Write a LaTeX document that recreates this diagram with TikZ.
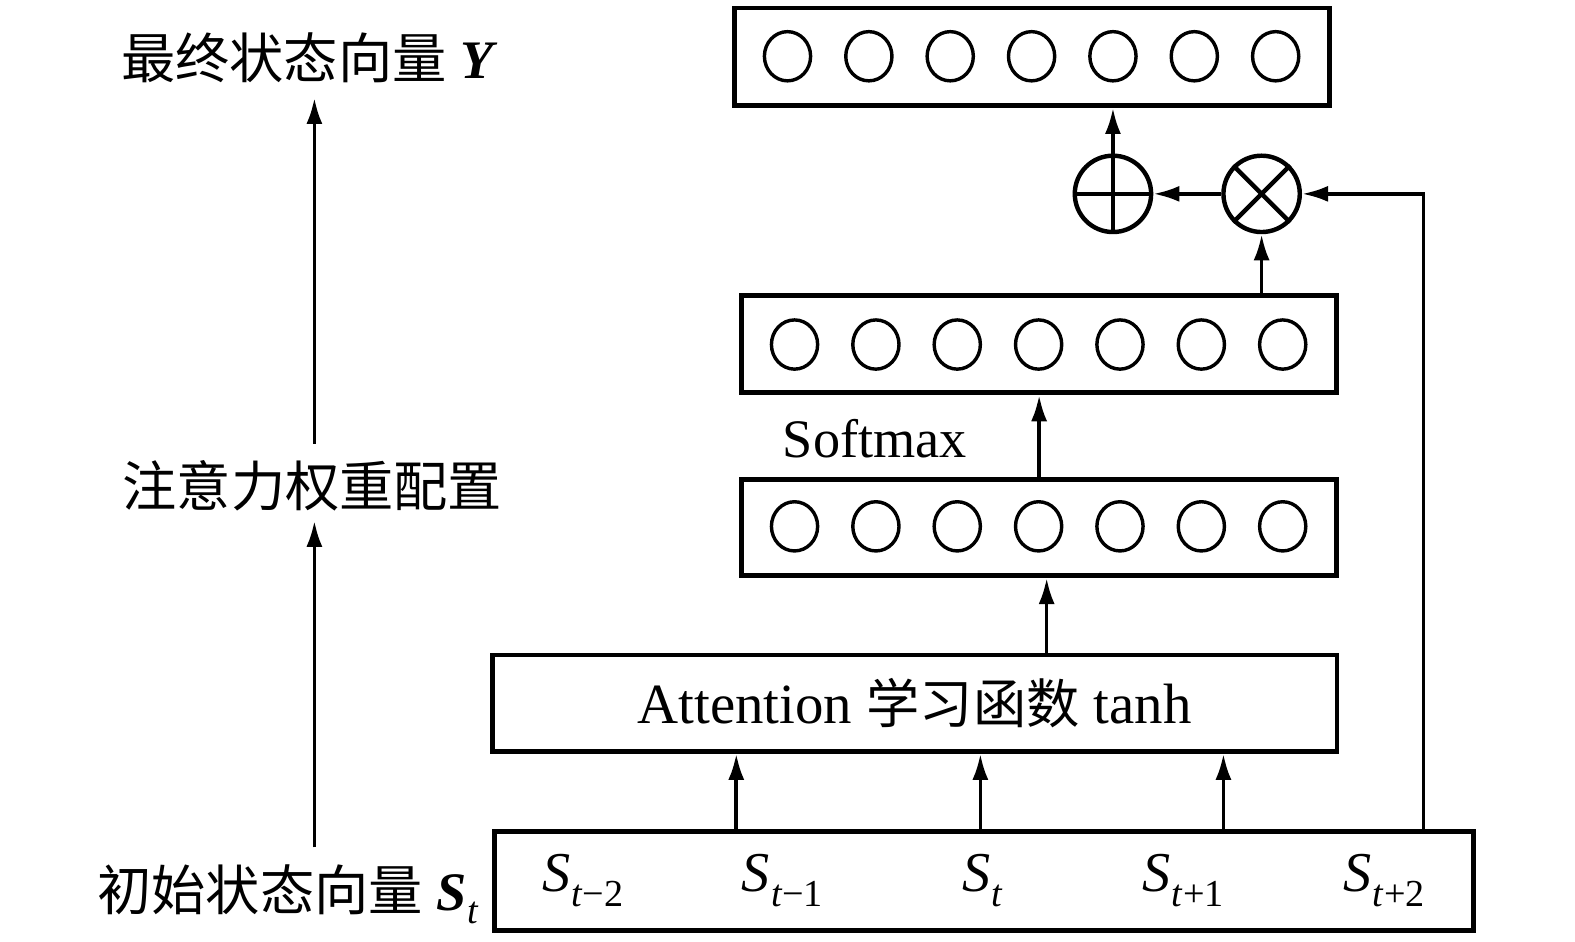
\documentclass[tikz,border=0pt]{standalone}
\usepackage{fontspec}
\setmainfont{Liberation Serif}
\newfontfamily\cjk{Noto Sans CJK SC}
\usetikzlibrary{arrows.meta,shapes.geometric}
\newcommand\Sv[2]{\textit{S}\kern0.5pt\raisebox{-0.55ex}{\fontsize{19}{19}\selectfont\textit{#1}#2}}
\begin{document}
\begin{tikzpicture}[x=0.5pt,y=-0.5pt,
  box/.style={draw,line width=2.4pt,inner sep=0pt},
  unit/.style={draw,ellipse,line width=1.7pt,minimum width=23pt,minimum height=24.5pt,inner sep=0pt},
  op/.style={draw,circle,line width=2.2pt,minimum size=38pt,inner sep=0pt},
  arr/.style={line width=1.8pt,-{Latex[length=13pt,width=8pt]}},
  lbl/.style={inner sep=0pt,font=\fontsize{27}{27}\selectfont},
  slbl/.style={inner sep=0pt,font=\fontsize{28}{28}\selectfont}
]
\useasboundingbox (0,0) rectangle (1568,937);

% vector boxes
\node[box,minimum width=296pt,minimum height=48.5pt] (top) at (1027.5,56.5) {};
\foreach \i in {0,...,6} \node[unit] (ta\i) at ({784+81*\i},56) {};
\node[box,minimum width=296pt,minimum height=48.5pt] (box2) at (1034.5,342.5) {};
\foreach \i in {0,...,6} \node[unit] (tb\i) at ({791+81*\i},343) {};
\node[box,minimum width=296pt,minimum height=48pt] (box3) at (1034.5,525) {};
\foreach \i in {0,...,6} \node[unit] (tc\i) at ({791+81*\i},524) {};

\node[lbl,anchor=base] (sm) at (871,455) {Softmax};

\node[box,minimum width=420.5pt,minimum height=48pt,font=\fontsize{28.3}{28.3}\selectfont] (att) at (910.5,700)
  {Attention {\cjk\fontsize{26.5}{26.5}\selectfont 学习函数} tanh};

\node[box,minimum width=487.5pt,minimum height=49pt] (inp) at (979.5,877) {};
\node[slbl,anchor=base] (s1) at (580,888) {\Sv{t}{−2}};
\node[slbl,anchor=base] (s2) at (779,888) {\Sv{t}{−1}};
\node[slbl,anchor=base] (s3) at (978,888) {\Sv{t}{}};
\node[slbl,anchor=base] (s4) at (1178,888) {\Sv{t}{+1}};
\node[slbl,anchor=base] (s5) at (1378,888) {\Sv{t}{+2}};

% operators
\node[op] (plus) at (1108,193) {};
\draw[line width=2.2pt] (plus.north) -- (plus.south) (plus.west) -- (plus.east);
\node[op] (times) at (1256,193) {};
\draw[line width=2.2pt] (times.north west) -- (times.south east) (times.north east) -- (times.south west);

% connector x positions
\coordinate (c1) at (733,0);
\coordinate (c2) at (976,0);
\coordinate (c3) at (1218,0);
\coordinate (c4) at (1042,0);
\coordinate (c5) at (1417,0);

\draw[arr] (inp.north -| c1) -- (att.south -| c1);
\draw[arr] (inp.north -| c2) -- (att.south -| c2);
\draw[arr] (inp.north -| c3) -- (att.south -| c3);
\draw[arr] (att.north -| c4) -- (box3.south -| c4);
\draw[arr] (box3.north) -- (box2.south);
\draw[arr] (times.south |- box2.north) -- (times.south);
\draw[arr] (times.west) -- (plus.east);
\draw[arr] (plus.north) -- (plus.north |- top.south);
\draw[arr] (inp.north -| c5) |- (times.east);

% left column
\node[lbl,anchor=base,text depth=9.5pt] (L1) at (308,78) {{\cjk 最终状态向量} \textbf{\textit{Y}}};
\node[lbl,anchor=base,text height=31pt,text depth=7pt] (L2) at (311,504) {\cjk 注意力权重配置};
\node[lbl,anchor=base,text height=31pt] (L3) at (287,906) {{\cjk 初始状态向量} \textbf{\textit{S}}\kern0.5pt\raisebox{-0.55ex}{\fontsize{19}{19}\selectfont\textit{t}}};
\coordinate (ax) at (313,0);
\draw[arr] (L2.north -| ax) -- (L1.south -| ax);
\draw[arr] (L3.north -| ax) -- (L2.south -| ax);
\end{tikzpicture}
\end{document}
